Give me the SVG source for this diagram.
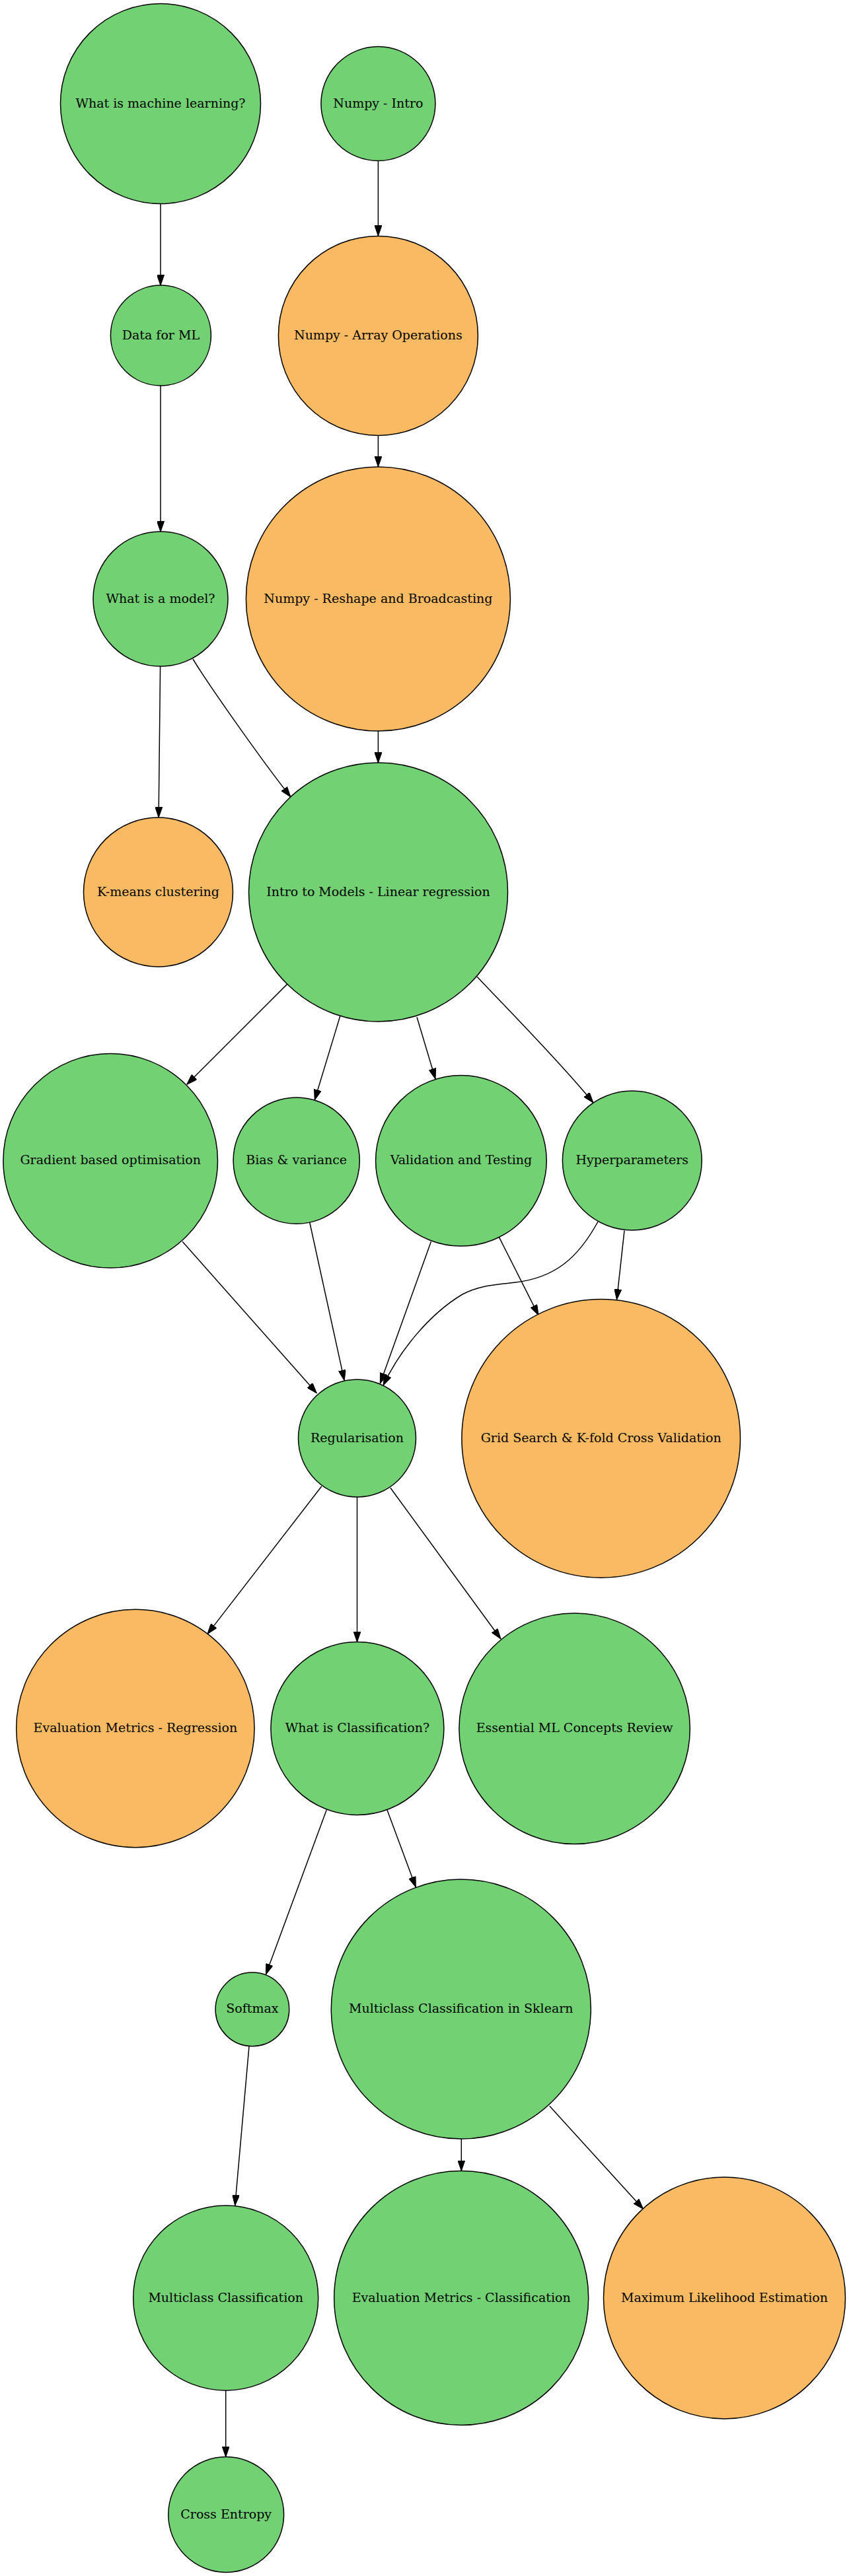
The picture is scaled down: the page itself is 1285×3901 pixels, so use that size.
<svg xmlns="http://www.w3.org/2000/svg" width="1285" height="3901" viewBox="0 0 1285 3901">
<style>
.g{fill:#72d173;stroke:#000;stroke-width:1.5}
.o{fill:#f9ba63;stroke:#000;stroke-width:1.5}
text{font-family:"DejaVu Serif",serif;font-size:19px;text-anchor:middle;fill:#000}
.e path,.e line{fill:none;stroke:#000;stroke-width:1.5;marker-end:url(#ah)}
</style>
<defs>
<marker id="ah" viewBox="0 0 16 11" refX="16" refY="5.5" markerUnits="userSpaceOnUse" markerWidth="16" markerHeight="11" orient="auto">
<path d="M0,0 L16,5.5 L0,11 z" fill="#000" stroke="#000" stroke-width="1"/>
</marker>
</defs>
<rect width="1285" height="3901" fill="#fff"/>
<g class="e" id="edges">
<line x1="243" y1="308.5" x2="243" y2="432.4"/>
<line x1="572.4" y1="243.5" x2="572.4" y2="357.4"/>
<line x1="243" y1="584" x2="243" y2="805.4"/>
<line x1="572.4" y1="659.4" x2="572.4" y2="707"/>
<line x1="242.6" y1="1009" x2="240.1" y2="1238"/>
<path d="M292,998 C315,1036 395,1150 440,1207"/>
<line x1="572.4" y1="1107" x2="572.4" y2="1155.4"/>
<line x1="434.4" y1="1490.6" x2="282.7" y2="1642.3"/>
<line x1="514.7" y1="1539" x2="476.2" y2="1666"/>
<line x1="631" y1="1540.3" x2="659" y2="1634"/>
<path d="M722,1479 C765,1525 845,1605 898,1670"/>
<line x1="276.2" y1="1880.2" x2="479.4" y2="2109.8"/>
<line x1="468.8" y1="1851.5" x2="521.2" y2="2090.7"/>
<line x1="652.4" y1="1880.2" x2="575.3" y2="2095.2"/>
<line x1="755.6" y1="1873.9" x2="815" y2="1991.7"/>
<path d="M905,1850 C875,1905 840,1935 780,1942 C745,1946 725,1947 700,1960 C650,1990 605,2045 580,2098"/>
<line x1="945" y1="1863.6" x2="933.5" y2="1968.2"/>
<line x1="486.8" y1="2250.8" x2="313.9" y2="2474.6"/>
<line x1="540.5" y1="2267" x2="540.5" y2="2486.7"/>
<line x1="591" y1="2253.3" x2="758" y2="2482"/>
<line x1="494.2" y1="2741" x2="402.4" y2="2990"/>
<line x1="586" y1="2741" x2="629.4" y2="2858"/>
<line x1="377" y1="3099" x2="355.7" y2="3340"/>
<line x1="698.3" y1="3239.2" x2="698.3" y2="3287.6"/>
<line x1="831.8" y1="3189.3" x2="973.6" y2="3345.3"/>
<line x1="341.7" y1="3620" x2="341.7" y2="3720.8"/>
</g>
<g id="n_wml"><circle class="g" cx="243" cy="157" r="151.5"/><text x="243" y="162.5">What is machine learning?</text></g>
<g id="n_numpy_intro"><circle class="g" cx="572.4" cy="157" r="86.5"/><text x="572.4" y="162.5">Numpy - Intro</text></g>
<g id="n_data"><circle class="g" cx="243.4" cy="508" r="76"/><text x="243.4" y="513.5">Data for ML</text></g>
<g id="n_numpy_array"><circle class="o" cx="572.4" cy="508.4" r="151"/><text x="572.4" y="513.9">Numpy - Array Operations</text></g>
<g id="n_model"><circle class="g" cx="243" cy="907" r="102"/><text x="243" y="912.5">What is a model?</text></g>
<g id="n_numpy_reshape"><circle class="o" cx="572.4" cy="907" r="200"/><text x="572.4" y="912.5">Numpy - Reshape and Broadcasting</text></g>
<g id="n_kmeans"><circle class="o" cx="239.5" cy="1351" r="113"/><text x="239.5" y="1356.5">K-means clustering</text></g>
<g id="n_intro"><circle class="g" cx="572.5" cy="1351" r="196"/><text x="572.5" y="1356.5">Intro to Models - Linear regression</text></g>
<g id="n_gradient"><circle class="g" cx="167.2" cy="1757.8" r="162.3"/><text x="167.2" y="1763.3">Gradient based optimisation</text></g>
<g id="n_bias"><circle class="g" cx="448.7" cy="1757.7" r="95.6"/><text x="448.7" y="1763.2">Bias &amp; variance</text></g>
<g id="n_validation"><circle class="g" cx="697.9" cy="1757.8" r="129.3"/><text x="697.9" y="1763.3">Validation and Testing</text></g>
<g id="n_hyper"><circle class="g" cx="956.8" cy="1757.5" r="105.4"/><text x="956.8" y="1763">Hyperparameters</text></g>
<g id="n_reg"><circle class="g" cx="540.5" cy="2178" r="89"/><text x="540.5" y="2183.5">Regularisation</text></g>
<g id="n_grid"><circle class="o" cx="909.7" cy="2178.4" r="210.8"/><text x="909.7" y="2183.9">Grid Search &amp; K-fold Cross Validation</text></g>
<g id="n_evalreg"><circle class="o" cx="204.9" cy="2617.5" r="180.2"/><text x="204.9" y="2623">Evaluation Metrics - Regression</text></g>
<g id="n_whatclass"><circle class="g" cx="540.9" cy="2617.5" r="131"/><text x="540.9" y="2623">What is Classification?</text></g>
<g id="n_essential"><circle class="g" cx="869.6" cy="2617.8" r="174.7"/><text x="869.6" y="2623.3">Essential ML Concepts Review</text></g>
<g id="n_softmax"><circle class="g" cx="381.9" cy="3042.9" r="55.8"/><text x="381.9" y="3048.4">Softmax</text></g>
<g id="n_multisk"><circle class="g" cx="697.8" cy="3042.6" r="196.5"/><text x="697.8" y="3048.1">Multiclass Classification in Sklearn</text></g>
<g id="n_multiclass"><circle class="g" cx="341.7" cy="3480" r="140"/><text x="341.7" y="3485.5">Multiclass Classification</text></g>
<g id="n_evalclass"><circle class="g" cx="698.2" cy="3480" r="192.5"/><text x="698.2" y="3485.5">Evaluation Metrics - Classification</text></g>
<g id="n_mle"><circle class="o" cx="1096.5" cy="3480" r="183"/><text x="1096.5" y="3485.5">Maximum Likelihood Estimation</text></g>
<g id="n_cross"><circle class="g" cx="342.2" cy="3808" r="87.4"/><text x="342.2" y="3813.5">Cross Entropy</text></g>
</svg>
